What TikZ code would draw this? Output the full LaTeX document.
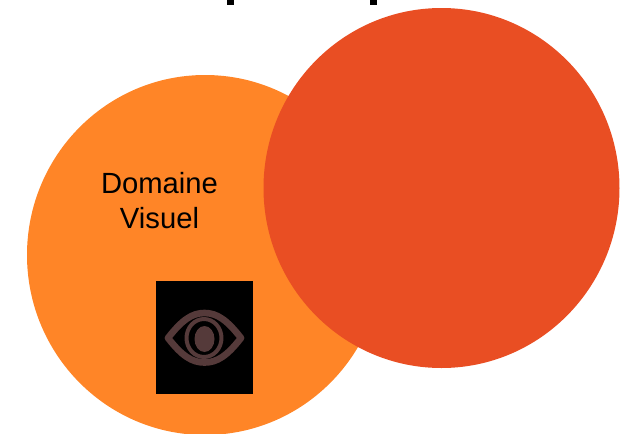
\documentclass[tikz,border=0pt]{standalone}
\usepackage{xcolor}
\usepackage{fontspec}
\setmainfont{Liberation Sans}
\usetikzlibrary{shapes.geometric}
\definecolor{domaineorange}{HTML}{FF8527}
\definecolor{darkorange}{HTML}{E94E23}
\definecolor{eyebrown}{HTML}{553A3A}
\tikzset {
  % big discs
  main/.style = {ellipse, inner sep=0pt, minimum width=267pt, minimum height=270pt},
  % label on the disc
  label text/.style = {align=center, font=\fontsize{21.9}{26.3}\selectfont},
  % black square behind the eye
  backbox/.style = {fill=black, inner sep=0pt, minimum width=72.75pt, minimum height=84.75pt},
  % eye outline
  eyeline/.style = {draw=eyebrown, line join=round},
  % what is left of the cut title
  cutmark/.style = {fill=black, inner sep=0pt, minimum width=5.25pt, minimum height=3.75pt},
}
\begin{document}
\begin{tikzpicture}[x=0.75pt, y=-0.75pt]
  \useasboundingbox (0,0) rectangle (633,433);

  \node[main, fill=domaineorange] (left) at (205,255) {};
  \node[main, fill=darkorange] (right) at (441.5,188) {};

  \node[label text] (domaine) at (159.5,200.5) {Domaine\\Visuel};

  \node[backbox] (box) at (204.5,337.5) {};

  % eye
  \coordinate (eyeleft) at (168,338);
  \coordinate (eyeright) at (241,338);
  \draw[eyeline, line width=5pt] (eyeleft) .. controls (182,320) and (192,313) .. (204.5,313)
    .. controls (217,313) and (227,320) .. (eyeright)
    .. controls (227,356) and (217,362.5) .. (204.5,362.5)
    .. controls (192,362.5) and (182,356) .. (eyeleft) -- cycle;
  \draw[eyeline, line width=3pt] (204,338) ellipse [x radius=17.5, y radius=19];
  \node[ellipse, fill=eyebrown, inner sep=0pt, minimum width=15pt, minimum height=19.5pt] (pupil) at (204.5,339) {};

  \node[cutmark] (cutone) at (230.5,2.5) {};
  \node[cutmark] (cuttwo) at (373.5,2.5) {};
\end{tikzpicture}
\end{document}
